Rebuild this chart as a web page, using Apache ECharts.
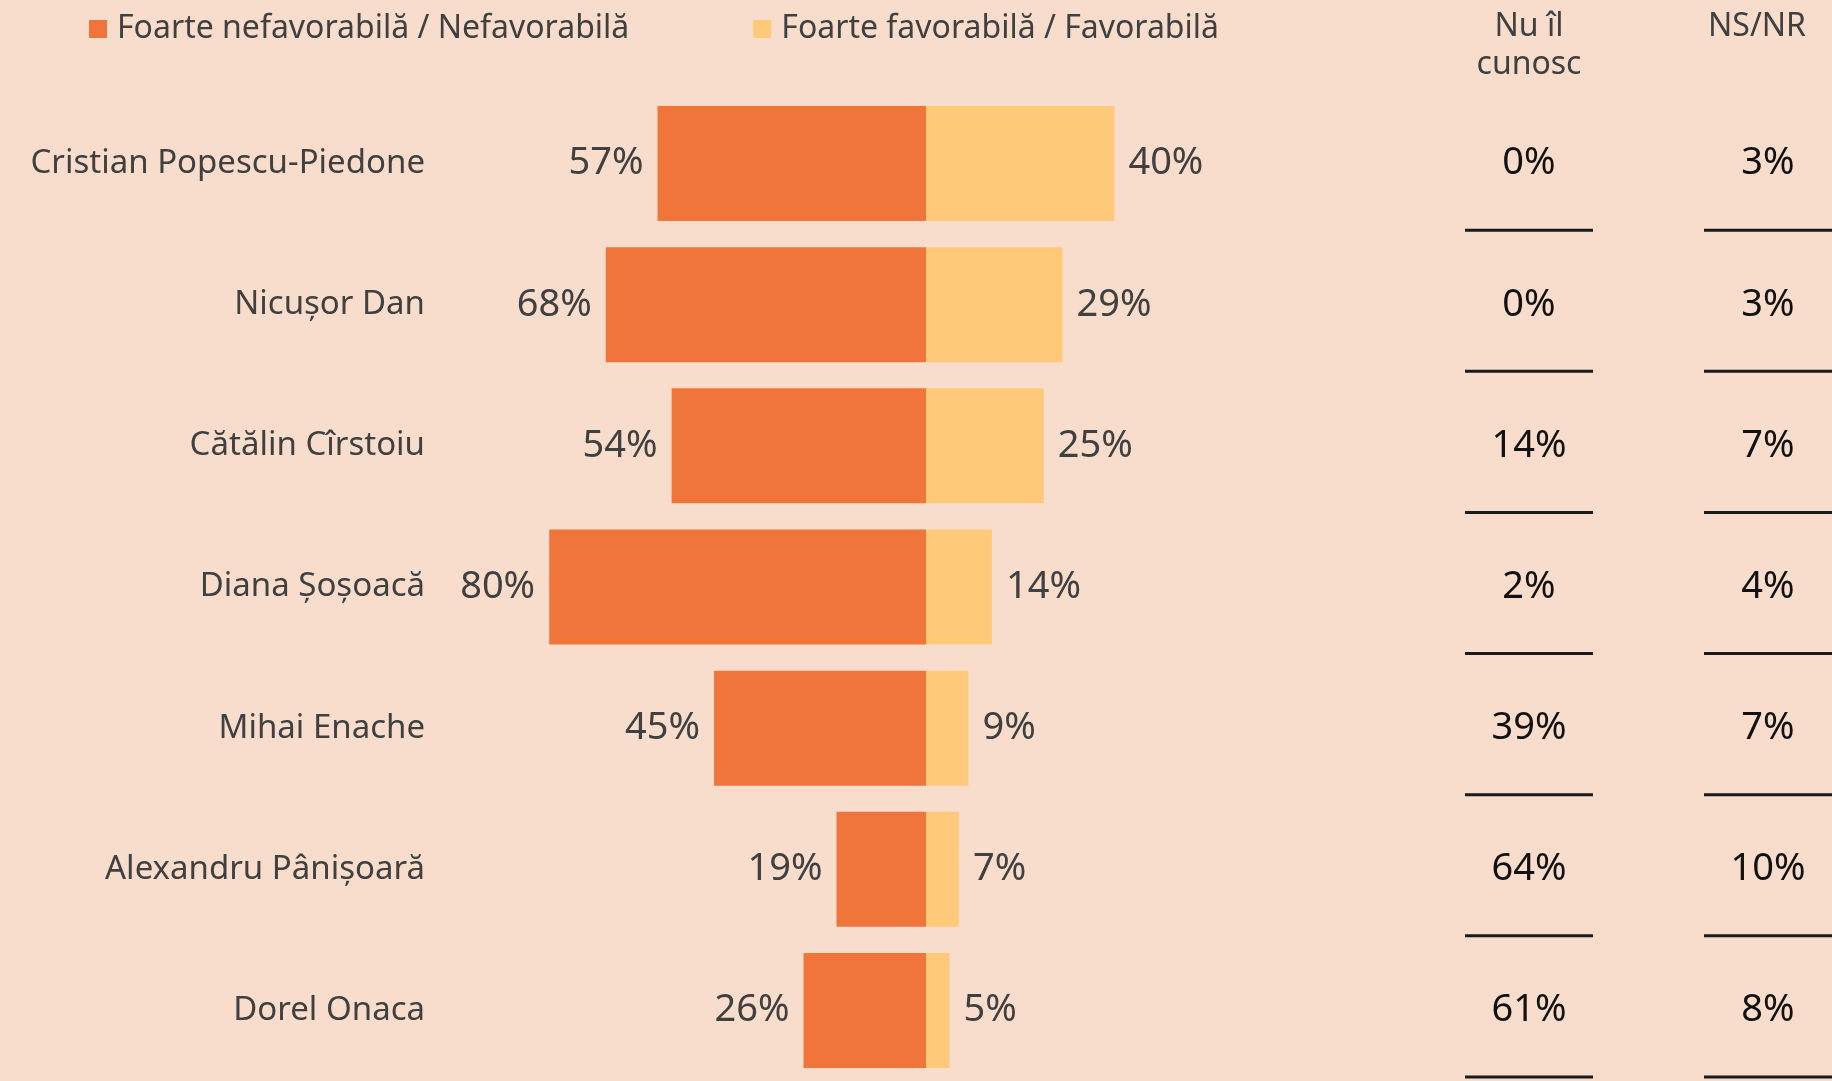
<!DOCTYPE html>
<html>
<head>
<meta charset="utf-8">
<script src="https://cdn.jsdelivr.net/npm/echarts@6/dist/echarts.min.js"></script>
<style>
  html, body { margin: 0; padding: 0; background: #F8DDCD; }
  #chart { width: 1832px; height: 1081px; }
</style>
</head>
<body>
<div id="chart"></div>
<script>
// date
const candidates = ['Cristian Popescu-Piedone', 'Nicușor Dan', 'Cătălin Cîrstoiu', 'Diana Șoșoacă', 'Mihai Enache', 'Alexandru Pânișoară', 'Dorel Onaca']
const unfavorable = [57, 68, 54, 80, 45, 19, 26]
const favorable = [40, 29, 25, 14, 9, 7, 5]
const notKnown = [0, 0, 14, 2, 39, 64, 61]
const noAnswer = [3, 3, 7, 4, 7, 10, 8]
const sideColumns = ['Nu îl\ncunosc', 'NS/NR']
const seriesNames = ['Foarte nefavorabilă / Nefavorabilă', 'Foarte favorabilă / Favorabilă']

const FONT = 'Noto Sans'
const GRAY = '#404040'

// celule pentru coloanele din dreapta: [coloana, rand, valoare]
const sideCells = []
notKnown.forEach((v, i) => sideCells.push([0, i, v]))
noAnswer.forEach((v, i) => sideCells.push([1, i, v]))

const headerStyle = {
    verticalAlign: 'top',
    fontSize: 32,
    lineHeight: 38,
    color: GRAY,
    fontFamily: FONT
}

const chart = echarts.init(document.getElementById('chart'))

chart.setOption({
    animation: false,
    backgroundColor: '#F8DDCD',
    textStyle: { fontFamily: FONT },
    legend: {
        data: seriesNames,
        left: 89,
        top: 13,
        padding: 0,
        itemWidth: 18,
        itemHeight: 18,
        itemGap: 124,
        icon: 'rect',
        textStyle: { fontSize: 32, color: GRAY, fontFamily: FONT, padding: [0, 0, 0, 5] }
    },
    grid: [
        { left: 455, right: 435, top: 93, bottom: 0, outerBoundsMode: 'none' },
        { left: 1529, right: 64, top: 93, bottom: 0, outerBoundsMode: 'none' }
    ],
    xAxis: [
        {
            gridIndex: 0,
            type: 'value',
            min: -100,
            max: 100,
            show: false
        },
        {
            gridIndex: 1,
            type: 'category',
            // NS/NR e putin mutat spre stanga fata de coloana
            data: sideColumns.map((c, i) => i === 1
                ? { value: c, textStyle: Object.assign({}, headerStyle, { padding: [0, 22, 0, 0] }) }
                : c),
            boundaryGap: false,
            position: 'top',
            axisLine: { show: false },
            axisTick: { show: false },
            axisLabel: Object.assign({ margin: 85, interval: 0 }, headerStyle)
        }
    ],
    yAxis: [
        {
            gridIndex: 0,
            type: 'category',
            data: candidates,
            inverse: true,
            axisLine: { show: false },
            axisTick: { show: false },
            axisLabel: { margin: 30, fontSize: 33, color: GRAY, fontFamily: FONT }
        },
        {
            gridIndex: 1,
            type: 'category',
            data: candidates,
            inverse: true,
            show: false
        }
    ],
    series: [
        {
            name: seriesNames[0],
            type: 'bar',
            stack: 'total',
            barWidth: 115,
            itemStyle: { color: '#EF753B' },
            data: unfavorable.map(v => -v),
            label: {
                show: true,
                position: 'left',
                distance: 14,
                fontSize: 38,
                color: GRAY,
                fontFamily: FONT,
                formatter: p => Math.abs(p.value) + '%'
            }
        },
        {
            name: seriesNames[1],
            type: 'bar',
            stack: 'total',
            barWidth: 115,
            itemStyle: { color: '#FECA7A' },
            data: favorable,
            label: {
                show: true,
                position: 'right',
                distance: 14,
                fontSize: 38,
                color: GRAY,
                fontFamily: FONT,
                formatter: p => p.value + '%'
            }
        },
        {
            type: 'custom',
            xAxisIndex: 1,
            yAxisIndex: 1,
            data: sideCells,
            renderItem: (params, api) => {
                const p = api.coord([api.value(0), api.value(1)])
                const band = api.size([0, 1])[1]
                const lineY = p[1] + band / 2 - 4
                return {
                    type: 'group',
                    children: [
                        {
                            type: 'text',
                            style: {
                                x: p[0],
                                y: p[1],
                                text: api.value(2) + '%',
                                align: 'center',
                                verticalAlign: 'middle',
                                fontSize: 38,
                                fontFamily: FONT,
                                fill: '#111'
                            }
                        },
                        {
                            type: 'line',
                            shape: { x1: p[0] - 64, y1: lineY, x2: p[0] + 64, y2: lineY },
                            style: { stroke: '#1a1a1a', lineWidth: 3 }
                        }
                    ]
                }
            }
        }
    ]
})
</script>
</body>
</html>
